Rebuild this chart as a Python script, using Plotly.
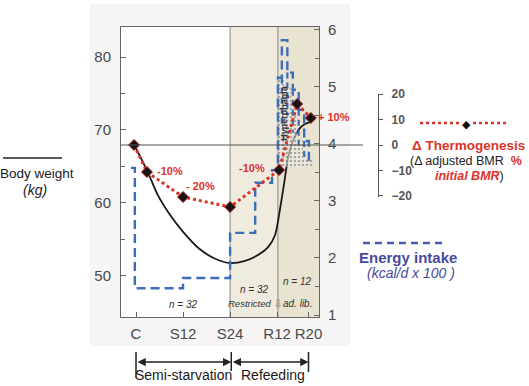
import plotly.graph_objects as go

# ---------------- data ----------------
# time in weeks (C = 0, S12 = 12, S24 = 24, R12 = 36, R20 = 44)
tick_weeks = [0, 12, 24, 36, 44]
tick_labels = ["C", "S12", "S24", "R12", "R20"]

# body weight (kg)
weight_weeks = [-0.5, 3.0, 5.6, 8.7, 12.0, 16.3, 20.2, 24.0, 27.8, 31.1, 33.7, 35.5,
                36.7, 37.8, 38.8, 40.1, 41.6, 43.1, 44.6]
weight_kg = [68.0, 64.2, 61.0, 58.3, 56.0, 53.6, 52.3, 51.7, 52.0, 52.8, 53.9, 55.6,
             59.0, 62.7, 66.2, 68.6, 70.1, 70.8, 71.1]

# delta thermogenesis (% of initial BMR)
thermo_weeks = [-0.5, 2.8, 12.0, 24.0, 36.5, 41.1, 44.6]
thermo_pct = [0.0, -10.6, -20.4, -24.3, -9.8, 16.1, 10.6]

# energy intake (kcal/d x 100), step series
intake_weeks = [-1.3, -0.3, 12.0, 24.0, 30.4, 34.7, 36.2, 37.2, 38.6, 40.0, 41.5, 42.9, 44.1, 45.3]
intake_vals = [3.58, 1.47, 1.65, 2.44, 3.32, 3.54, 5.16, 5.82, 5.25, 4.95, 4.60, 4.05, 3.72, 3.72]

# individual intake spread during hyperphagia
spread_weeks = [37.2, 37.2, None, 38.6, 38.6, None, 40.0, 40.0, None, 41.5, 41.5, None, 42.9, 42.9]
spread_vals = [5.16, 4.30, None, 5.25, 4.50, None, 4.95, 4.20, None, 4.60, 3.90, None, 4.05, 3.70]

# hyperphagia (stippled) region
hyper_weeks = [36.2, 36.2, 38.0, 38.0, 39.6, 39.6, 41.0, 41.0, 42.6, 42.6, 44.9, 44.9]
hyper_vals = [3.60, 5.16, 5.16, 4.98, 4.98, 4.63, 4.63, 4.07, 4.07, 3.75, 3.75, 3.60]

# ---------------- geometry helpers ----------------
W, H = 529, 386
PL, PR, PT, PB = 121, 429, 27, 317
PW, PH = PR - PL, PB - PT


def px(x):
    return (x - PL) / PW


def py(y):
    return (PB - y) / PH


RED = "#dc3328"
BLUE = "#3c6db8"
INK = "#4a4a9c"
FONT = "Liberation Sans"

fig = go.Figure()

# stippled hyperphagia region
fig.add_trace(go.Scatter(x=hyper_weeks, y=hyper_vals, yaxis="y2", mode="lines",
                         fill="toself", fillcolor="rgba(255,255,255,0.3)",
                         fillpattern=dict(shape=".", fgcolor="#6a6a6a", bgcolor="rgba(240,238,232,0.6)",
                                          size=4, solidity=0.35),
                         line=dict(width=0), hoverinfo="skip", showlegend=False))

# body weight
fig.add_trace(go.Scatter(x=weight_weeks, y=weight_kg, mode="lines",
                         line=dict(color="#1a1a1a", width=1.8, shape="spline", smoothing=0.7),
                         showlegend=False))

# energy intake
fig.add_trace(go.Scatter(x=intake_weeks, y=intake_vals, yaxis="y2", mode="lines",
                         line=dict(color=BLUE, width=2.4, shape="hv", dash="9px,5px"),
                         showlegend=False))
fig.add_trace(go.Scatter(x=spread_weeks, y=spread_vals, yaxis="y2", mode="lines",
                         line=dict(color=BLUE, width=2.2, dash="6px,4px"),
                         connectgaps=False, showlegend=False))

# thermogenesis
fig.add_trace(go.Scatter(x=thermo_weeks, y=thermo_pct, yaxis="y3", mode="lines+markers",
                         line=dict(color=RED, width=3, dash="dot"),
                         marker=dict(symbol="diamond", size=8.5, color="#151515",
                                     line=dict(color="#b02020", width=1)),
                         showlegend=False))

# dummy trace for the separate thermogenesis axis
fig.add_trace(go.Scatter(x=[None], y=[None], yaxis="y4", mode="markers", showlegend=False))

xrange_ = [-3.83, 46.68]

shapes = [
    # scanned page background
    dict(type="rect", xref="paper", yref="paper", x0=px(90), x1=px(350), y0=py(346), y1=py(4),
         fillcolor="#f6f4f4", line=dict(width=0), layer="below"),
    # plot interior regions
    dict(type="rect", xref="x", yref="y domain", x0=xrange_[0], x1=24, y0=0, y1=1,
         fillcolor="#ffffff", line=dict(width=0), layer="below"),
    dict(type="rect", xref="x", yref="y domain", x0=24, x1=36.2, y0=0, y1=1,
         fillcolor="#efebdf", line=dict(width=0), layer="below"),
    dict(type="rect", xref="x", yref="y domain", x0=36.2, x1=xrange_[1], y0=0, y1=1,
         fillcolor="#e9e3d2", line=dict(width=0), layer="below"),
    dict(type="line", xref="x", yref="y domain", x0=24, x1=24, y0=0, y1=1,
         line=dict(color="#8a8a80", width=1), layer="below"),
    dict(type="line", xref="x", yref="y domain", x0=36.2, x1=36.2, y0=0, y1=1,
         line=dict(color="#8a8a80", width=1), layer="below"),
    # zero line of thermogenesis
    dict(type="line", xref="paper", yref="y3", x0=0, x1=px(363), y0=0, y1=0,
         line=dict(color="#555555", width=1.2)),
    # left legend line
    dict(type="line", xref="paper", yref="paper", x0=px(3), x1=px(62), y0=py(158), y1=py(158),
         line=dict(color="#222222", width=1.5)),
    # right legend red dotted line
    dict(type="line", xref="paper", yref="paper", x0=px(420), x1=px(459), y0=py(123), y1=py(123),
         line=dict(color=RED, width=2.5, dash="dot")),
    dict(type="line", xref="paper", yref="paper", x0=px(473), x1=px(507), y0=py(123), y1=py(123),
         line=dict(color=RED, width=2.5, dash="dot")),
    # energy intake legend dashes
    dict(type="line", xref="paper", yref="paper", x0=px(363), x1=px(443), y0=py(243), y1=py(243),
         line=dict(color="#4a5aa8", width=2.5, dash="7px,5px")),
    # bottom bracket bars
    dict(type="line", xref="x", yref="paper", x0=0, x1=0, y0=py(352), y1=py(378),
         line=dict(color="#222222", width=1.5)),
    dict(type="line", xref="x", yref="paper", x0=24.3, x1=24.3, y0=py(352), y1=py(371),
         line=dict(color="#222222", width=1.5)),
    dict(type="line", xref="x", yref="paper", x0=44.0, x1=44.0, y0=py(352), y1=py(372),
         line=dict(color="#222222", width=1.5)),
]

ann = []


def txt(x, y, text, size=11, color="#333333", xref="paper", yref="paper", **kw):
    d = dict(x=x, y=y, xref=xref, yref=yref, text=text, showarrow=False,
             font=dict(family=FONT, size=size, color=color), xanchor="center", yanchor="middle")
    d.update(kw)
    ann.append(d)


# percent labels
txt(8.6, -10.2, "<b>-10%</b>", 11, RED, xref="x", yref="y3")
txt(16.5, -16.1, "<b>- 20%</b>", 11, RED, xref="x", yref="y3")
txt(29.6, -9.0, "<b>-10%</b>", 11, RED, xref="x", yref="y3")
txt(px(334), py(117), "<b>+ 10%</b>", 11, RED)
# hyperphagia
txt(37.9, 12.5, "<b>Hyperphagia</b>", 9, "#333333", xref="x", yref="y3", textangle=-90)
# n labels
txt(12, -62.4, "<i>n = 32</i>", 10, xref="x", yref="y3")
txt(30.1, -56.5, "<i>n = 32</i>", 10, xref="x", yref="y3")
txt(29.0, -62.2, "<i>Restricted</i>", 9.5, xref="x", yref="y3")
txt(36.2, -62.2, "⇩", 12, "#888888", xref="x", yref="y3")
txt(41.2, -53.4, "<i>n = 12</i>", 10, xref="x", yref="y3")
txt(41.3, -62.2, "<i>ad. lib.</i>", 10, xref="x", yref="y3")

# bottom bracket arrows
for x0, x1 in [(0, 24.3), (24.3, 44.0)]:
    ann.append(dict(x=x1, y=py(362), xref="x", yref="paper", ax=x0, ay=0, axref="x", ayref="pixel",
                    showarrow=True, arrowhead=2, arrowside="end+start", arrowsize=1.1,
                    arrowwidth=1.5, arrowcolor="#222222", text=""))
txt(px(183), py(375), "Semi-starvation", 14, "#1a1a1a")
txt(px(273), py(375), "Refeeding", 14, "#1a1a1a")

# left legend
txt(px(37), py(173), "Body weight", 13.5, "#1a1a1a")
txt(px(35), py(190), "<i>(kg)</i>", 14, "#1a1a1a")

# right legend
txt(px(466), py(123.5), "◆", 11, "#111111")
txt(px(468), py(145), "<b>Δ Thermogenesis</b>", 13.5, RED)
txt(px(466), py(161), "(Δ adjusted BMR  <b><span style='color:%s'>%%</span></b>" % RED, 12.5, "#222222")
txt(px(469), py(176), "<b><i><span style='color:%s'>initial BMR</span></i></b>)" % RED, 12.5, "#222222")
txt(px(408), py(257), "<b>Energy intake</b>", 15, INK)
txt(px(411), py(273), "<i>(kcal/d x 100 )</i>", 14, INK)

axis_font = dict(family=FONT, size=15, color="#4a4a4a")

fig.update_layout(
    width=W, height=H,
    margin=dict(l=PL, r=W - PR, t=PT, b=H - PB, pad=0),
    paper_bgcolor="#ffffff", plot_bgcolor="rgba(0,0,0,0)",
    showlegend=False,
    xaxis=dict(domain=[0, px(319)], range=xrange_, tickvals=tick_weeks, ticktext=tick_labels,
               ticks="inside", ticklen=5, tickcolor="#666666", showline=True, linecolor="#666666",
               linewidth=1, mirror=True, showgrid=False, zeroline=False, tickfont=axis_font,
               ticklabelstandoff=3),
    yaxis=dict(range=[44.3, 84.12], tickvals=[50, 60, 70, 80], ticks="inside", ticklen=5,
               tickcolor="#666666", showline=True, linecolor="#666666", linewidth=1, mirror=True,
               showgrid=False, zeroline=False, tickfont=axis_font, ticklabelstandoff=6,
               minor=dict(tickvals=[55, 65, 75], ticks="inside", ticklen=4, tickcolor="#666666")),
    yaxis2=dict(range=[0.965, 6.05], overlaying="y", side="right", tickvals=[1, 2, 3, 4, 5, 6],
                ticks="inside", ticklen=5, tickcolor="#666666", showgrid=False, zeroline=False,
                tickfont=axis_font, ticklabelstandoff=8,
                minor=dict(tickvals=[1.5, 2.5, 3.5, 4.5, 5.5], ticks="inside", ticklen=4,
                           tickcolor="#666666")),
    yaxis3=dict(range=[-67.45, 46.27], overlaying="y", visible=False),
    yaxis4=dict(domain=[py(197), py(93.5)], range=[-20.4, 20.2], anchor="free", position=px(378),
                side="right", tickvals=[-20, -10, 0, 10, 20], ticks="outside", ticklen=4,
                tickcolor="#555555", showline=True, linecolor="#555555", linewidth=1.2,
                showgrid=False, zeroline=False, ticklabelstandoff=6,
                tickfont=dict(family=FONT, size=12, color="#555555", weight="bold")),
    shapes=shapes,
    annotations=ann,
)

fig.write_html("out.html")
